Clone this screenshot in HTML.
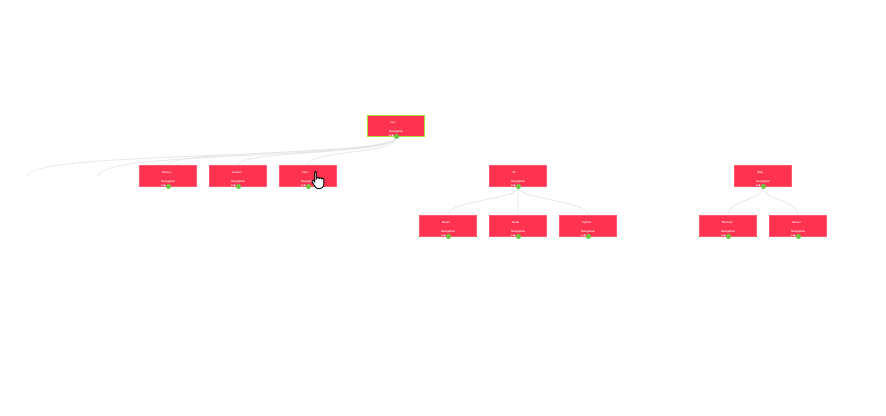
<!DOCTYPE html>
<html><head><meta charset="utf-8"><style>
body{margin:0;width:886px;height:416px;background:#fff;position:relative;overflow:hidden;font-family:"Liberation Sans",sans-serif}
.n{position:absolute;width:58px;height:22px;background:#ff334f;box-sizing:border-box;border:1px solid #ff5a6e}
.n .t{position:absolute;left:22px;top:4px;font-size:3px;color:#fff}
.n .s{position:absolute;left:21px;top:13px;font-size:3px;color:#fff;line-height:4px}
.n .d{position:absolute;left:26px;bottom:-3px;width:5px;height:5px;border-radius:50%;background:#6cc644}
.root{border:1.5px solid #a4e03a}
</style></head><body>
<svg width="886" height="416" style="position:absolute;left:0;top:0" fill="none" stroke="#e4e4e4" stroke-width="0.8">
<path d="M396 137 C396 160,28 150,28 176"/>
<path d="M396 137 C396 160,98 150,98 176"/>
<path d="M396 137 C396 155,168 150,168 165"/>
<path d="M396 137 C396 155,238 150,238 165"/>
<path d="M396 137 C396 155,308 150,308 165"/>
<path d="M518 187 C518 200,448 200,448 215"/>
<path d="M518 187 L518 215"/>
<path d="M518 187 C518 200,588 200,588 215"/>
<path d="M763 187 C763 200,728 200,728 215"/>
<path d="M763 187 C763 200,798 200,798 215"/>
</svg>
<div class="n root" style="left:367px;top:115px"><div class="t">root</div><div class="s">Navigation<br>&#9679; ■</div><div class="d"></div></div>
<div class="n" style="left:139px;top:165px"><div class="t">Survey</div><div class="s">Navigation<br>&#9679; ■</div><div class="d"></div></div>
<div class="n" style="left:209px;top:165px"><div class="t">Lesson</div><div class="s">Navigation<br>&#9679; ■</div><div class="d"></div></div>
<div class="n" style="left:279px;top:165px"><div class="t">Intro</div><div class="s">Navigation<br>&#9679; ■</div><div class="d"></div></div>
<div class="n" style="left:489px;top:165px"><div class="t">JS</div><div class="s">Navigation<br>&#9679; ■</div><div class="d"></div></div>
<div class="n" style="left:734px;top:165px"><div class="t">Web</div><div class="s">Navigation<br>&#9679; ■</div><div class="d"></div></div>
<div class="n" style="left:419px;top:215px"><div class="t">React</div><div class="s">Navigation<br>&#9679; ■</div><div class="d"></div></div>
<div class="n" style="left:489px;top:215px"><div class="t">Node</div><div class="s">Navigation<br>&#9679; ■</div><div class="d"></div></div>
<div class="n" style="left:559px;top:215px"><div class="t">Python</div><div class="s">Navigation<br>&#9679; ■</div><div class="d"></div></div>
<div class="n" style="left:699px;top:215px"><div class="t">Browser</div><div class="s">Navigation<br>&#9679; ■</div><div class="d"></div></div>
<div class="n" style="left:769px;top:215px"><div class="t">Server</div><div class="s">Navigation<br>&#9679; ■</div><div class="d"></div></div>
<svg width="16" height="20" viewBox="0 0 16 20" style="position:absolute;left:311px;top:170px"><path d="M4 1.5c.8 0 1.3.5 1.3 1.3V9l.5-.5c0-.8.5-1.2 1.2-1.2s1.2.4 1.2 1.2V9c0-.7.5-1.1 1.2-1.1s1.2.4 1.2 1.1v.4c0-.6.5-1 1.1-1s1.1.4 1.1 1.1v4.5c0 2.6-1.9 4.6-4.5 4.6H7.5c-1.5 0-2.6-.7-3.4-1.9L1.3 12.2c-.4-.6-.2-1.3.4-1.6.5-.3 1.1-.1 1.5.4l.5.8V2.8c0-.8.5-1.3 1.3-1.3z" fill="#fff" stroke="#000" stroke-width="1"/></svg>
</body></html>
